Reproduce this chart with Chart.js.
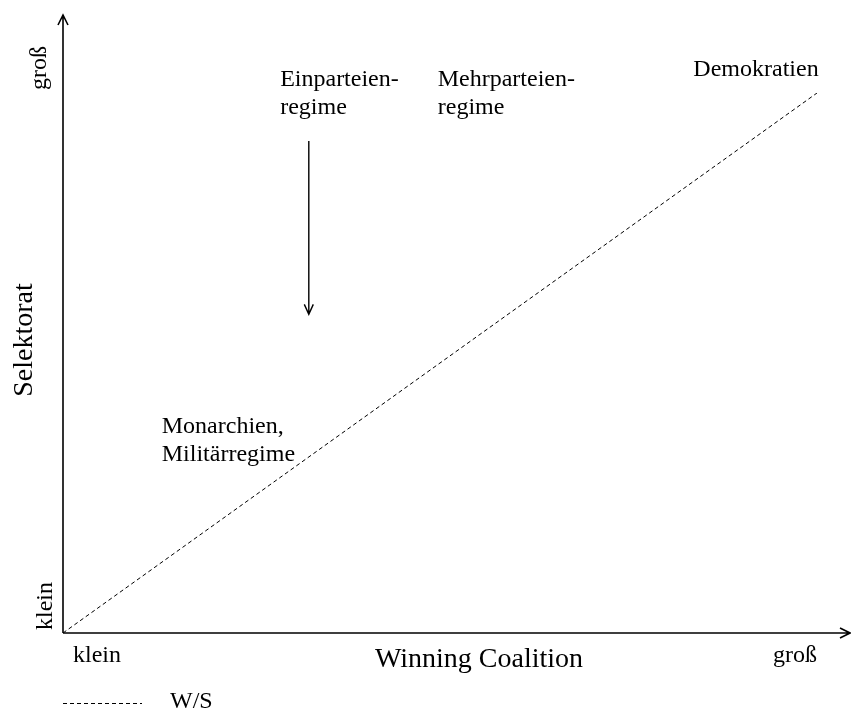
<!DOCTYPE html>
<html>
<head>
<meta charset="utf-8">
<script src="https://cdn.jsdelivr.net/npm/chart.js@4"></script>
<style>
  html, body { margin: 0; padding: 0; background: #fff; }
  #wrap { position: relative; width: 851px; height: 709px; }
</style>
</head>
<body>
<div id="wrap"><canvas id="c"></canvas></div>
<script>
// ---- data ----
const seriesLabel = "W/S";
const wsX = [0, 1];           // Winning Coalition (klein -> groß)
const wsY = [0, 1];           // Selektorat (klein -> groß)
const xTickLabels = ["klein", "groß"];
const yTickLabels = ["klein", "groß"];
const xTitle = "Winning Coalition";
const yTitle = "Selektorat";
const regimeLabels = [
  ["Einparteien-", "regime"],
  ["Mehrparteien-", "regime"],
  ["Demokratien"],
  ["Monarchien,", "Militärregime"]
];
// anchors of the regime labels in data units (left, first baseline)
const regimeX = [0.288, 0.497, 0.836, 0.131];
const regimeY = [1.013, 1.013, 1.032, 0.371];
// shift arrow (from Einparteienregime downward)
const arrowX = 0.326;
const arrowFromY = 0.911;
const arrowToY = 0.590;

const FONT = "'Liberation Serif', 'Times New Roman', serif";

const overlay = {
  id: 'overlay',
  afterDraw(chart) {
    const ctx = chart.ctx;
    const xs = chart.scales.x, ys = chart.scales.y;
    const x0 = xs.getPixelForValue(0), y0 = ys.getPixelForValue(0);
    const x1 = xs.getPixelForValue(1), y1 = ys.getPixelForValue(1);
    ctx.save();
    ctx.strokeStyle = '#000';
    ctx.fillStyle = '#000';
    ctx.lineWidth = 1.6;
    ctx.setLineDash([]);
    // axes with open arrow heads
    const yTop = 15, xRight = 850;
    ctx.beginPath();
    ctx.moveTo(x0, y0); ctx.lineTo(x0, yTop);
    ctx.moveTo(x0 - 5, yTop + 10); ctx.lineTo(x0, yTop); ctx.lineTo(x0 + 5, yTop + 10);
    ctx.moveTo(x0, y0); ctx.lineTo(xRight, y0);
    ctx.moveTo(xRight - 10, y0 - 5); ctx.lineTo(xRight, y0); ctx.lineTo(xRight - 10, y0 + 5);
    ctx.stroke();

    // down arrow
    const ax = xs.getPixelForValue(arrowX);
    const ay0 = ys.getPixelForValue(arrowFromY), ay1 = ys.getPixelForValue(arrowToY);
    ctx.lineWidth = 1.4;
    ctx.beginPath();
    ctx.moveTo(ax, ay0); ctx.lineTo(ax, ay1);
    ctx.moveTo(ax - 4.5, ay1 - 10); ctx.lineTo(ax, ay1); ctx.lineTo(ax + 4.5, ay1 - 10);
    ctx.stroke();

    // regime labels
    ctx.font = '24px ' + FONT;
    ctx.textAlign = 'left';
    ctx.textBaseline = 'alphabetic';
    regimeLabels.forEach((lines, i) => {
      const px = xs.getPixelForValue(regimeX[i]);
      const py = ys.getPixelForValue(regimeY[i]);
      lines.forEach((t, j) => ctx.fillText(t, px, py + j * 28.5));
    });

    // x tick labels
    ctx.font = '24px ' + FONT;
    ctx.textAlign = 'left';
    ctx.fillText(xTickLabels[0], x0 + 10, y0 + 29);
    ctx.textAlign = 'right';
    ctx.fillText(xTickLabels[1], x1, y0 + 29);
    // x title
    ctx.font = '28px ' + FONT;
    ctx.textAlign = 'left';
    ctx.fillText(xTitle, 375, y0 + 34);

    // y tick labels (rotated)
    ctx.font = '24px ' + FONT;
    ctx.textAlign = 'center';
    ctx.save();
    ctx.translate(52, y0 - 27); ctx.rotate(-Math.PI / 2);
    ctx.fillText(yTickLabels[0], 0, 0);
    ctx.restore();
    ctx.save();
    ctx.translate(46, 68); ctx.rotate(-Math.PI / 2);
    ctx.fillText(yTickLabels[1], 0, 0);
    ctx.restore();
    // y title
    ctx.font = '28px ' + FONT;
    ctx.save();
    ctx.translate(32, 340); ctx.rotate(-Math.PI / 2);
    ctx.fillText(yTitle, 0, 0);
    ctx.restore();

    // legend
    const ds = chart.data.datasets[0];
    ctx.lineWidth = 1;
    ctx.setLineDash(ds.borderDash);
    ctx.beginPath();
    ctx.moveTo(63, 703.5); ctx.lineTo(142, 703.5);
    ctx.stroke();
    ctx.setLineDash([]);
    ctx.font = '24px ' + FONT;
    ctx.textAlign = 'left';
    ctx.fillText(ds.label, 170, 708);
    ctx.restore();
  }
};

new Chart(document.getElementById('c'), {
  type: 'scatter',
  data: {
    datasets: [{
      label: seriesLabel,
      data: wsX.map((x, i) => ({ x: x, y: wsY[i] })),
      showLine: true,
      borderColor: '#000',
      borderWidth: 1,
      borderDash: [4, 3],
      pointRadius: 0,
      fill: false
    }]
  },
  options: {
    responsive: true,
    maintainAspectRatio: false,
    animation: false,
    layout: { padding: { left: 63, right: 34, top: 93, bottom: 76 } },
    plugins: { legend: { display: false }, tooltip: { enabled: false } },
    scales: {
      x: { type: 'linear', min: 0, max: 1, display: false },
      y: { type: 'linear', min: 0, max: 1, display: false }
    }
  },
  plugins: [overlay]
});
</script>
</body>
</html>
